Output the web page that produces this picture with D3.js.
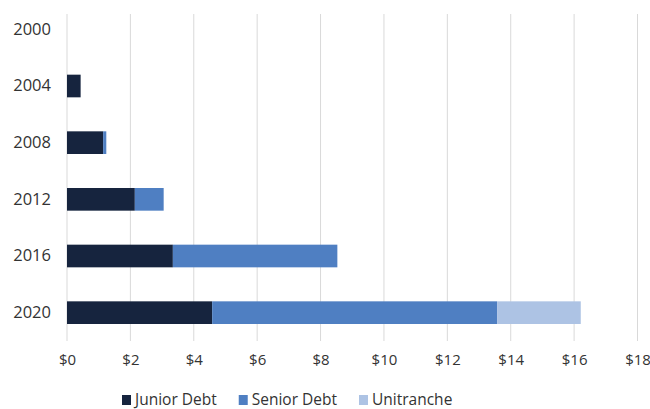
<!DOCTYPE html>
<html>
<head>
<meta charset="utf-8">
<script src="https://cdn.jsdelivr.net/npm/d3@7"></script>
<style>
  body { margin: 0; background: #fff; }
  text { font-family: "Open Sans", "Noto Sans", sans-serif; fill: #333; }
</style>
</head>
<body>
<svg width="650" height="409"></svg>
<script>
// data ($ billions)
const years = ["2000", "2004", "2008", "2012", "2016", "2020"]
const juniorDebt = [0, 0.43, 1.14, 2.14, 3.34, 4.58]
const seniorDebt = [0, 0, 0.10, 0.91, 5.19, 8.99]
const unitranche = [0, 0, 0, 0, 0, 2.64]
const seriesNames = ["Junior Debt", "Senior Debt", "Unitranche"]
const seriesColors = ["#16243e", "#4f7fc2", "#adc3e4"]
const xTicks = [0, 2, 4, 6, 8, 10, 12, 14, 16, 18]

let svg = d3.select("svg")

let rows = years.map((y, i) => ({
    year: y,
    "Junior Debt": juniorDebt[i],
    "Senior Debt": seniorDebt[i],
    "Unitranche": unitranche[i]
}))

let stack = d3.stack().keys(seriesNames)(rows)

let x = d3.scaleLinear().domain([0, 18]).range([67, 637.5])
let y = d3.scaleBand().domain(years).range([1, 341]).paddingInner(0.6).paddingOuter(0.3)
let color = d3.scaleOrdinal().domain(seriesNames).range(seriesColors)

// vertical gridlines
svg.append("g")
    .selectAll("line")
    .data(xTicks)
    .join("line")
    .attr("x1", d => x(d))
    .attr("x2", d => x(d))
    .attr("y1", 14)
    .attr("y2", 341)
    .attr("stroke", "#d9d9d9")
    .attr("stroke-width", 1)

// bars
svg.append("g")
    .selectAll("g")
    .data(stack)
    .join("g")
    .attr("fill", d => color(d.key))
    .selectAll("rect")
    .data(d => d)
    .join("rect")
    .attr("x", d => x(d[0]))
    .attr("y", d => y(d.data.year))
    .attr("width", d => x(d[1]) - x(d[0]))
    .attr("height", y.bandwidth())

// y axis labels
let yAxis = svg.append("g")
    .attr("transform", "translate(51,0)")
    .call(d3.axisLeft(y).tickSize(0).tickPadding(0))
yAxis.select(".domain").remove()
yAxis.selectAll("text")
    .attr("font-size", "16.5px")
    .attr("font-family", null)
    .style("fill", "#333")

// x axis labels
let xAxis = svg.append("g")
    .attr("transform", "translate(0,354)")
    .call(d3.axisBottom(x).tickValues(xTicks).tickSize(0).tickPadding(0).tickFormat(d => "$" + d))
xAxis.select(".domain").remove()
xAxis.selectAll("text")
    .attr("font-size", "15px")
    .attr("font-family", null)
    .style("fill", "#333")

// legend
let legend = svg.append("g")
let lx = 122
seriesNames.forEach((name, i) => {
    legend.append("rect")
        .attr("x", lx)
        .attr("y", 395)
        .attr("width", 9)
        .attr("height", 10)
        .attr("fill", seriesColors[i])
    let t = legend.append("text")
        .attr("x", lx + 13)
        .attr("y", 405)
        .attr("font-size", "15.5px")
        .text(name)
    lx = lx + 13 + t.node().getComputedTextLength() + 22
})
</script>
</body>
</html>
